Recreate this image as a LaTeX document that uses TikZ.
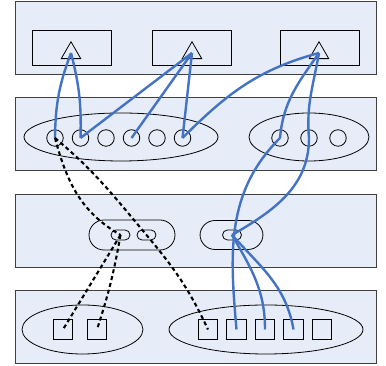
\documentclass[tikz,border=0pt]{standalone}
\usepackage{tikz}
\usetikzlibrary{shapes.geometric, calc, arrows, positioning}
\definecolor{layerfill}{RGB}{231,237,248}
\definecolor{linkblue}{RGB}{68,114,196}

\begin{document}
\begin{tikzpicture}[x=1pt, y=1pt, node distance=9pt, outer sep=0pt]

\tikzstyle{layer}=[rectangle,draw=black!75,fill=layerfill,line width=0.9pt,minimum width=361pt,minimum height=73pt]
\tikzstyle{slot}=[rectangle,draw,line width=0.8pt,minimum width=79pt,minimum height=35pt]
\tikzstyle{tri}=[regular polygon,regular polygon sides=3,draw,line width=0.8pt,minimum size=22.5pt,inner sep=0pt]
\tikzstyle{group}=[ellipse,draw,line width=0.8pt,inner sep=0pt]
\tikzstyle{port}=[circle,draw,line width=0.8pt,minimum size=16.5pt,inner sep=0pt]
\tikzstyle{ring}=[rectangle,draw,line width=0.8pt,minimum height=30pt,rounded corners=15pt]
\tikzstyle{pill}=[rectangle,draw,line width=0.8pt,minimum width=19pt,minimum height=10pt,inner sep=0pt,rounded corners=5pt]
\tikzstyle{cell}=[rectangle,draw,line width=0.8pt,minimum size=19.5pt,inner sep=0pt]
\tikzstyle{link}=[draw=linkblue,line width=2.4pt]
\tikzstyle{tunnel}=[draw=black,line width=2.1pt,dash pattern=on 4pt off 3pt]

\useasboundingbox (0,0) rectangle (386,366);

\node[layer] (layer1) at (195.5,328.5) {};
\node[layer] (layer2) at (195.5,232) {};
\node[layer] (layer3) at (195.5,135) {};
\node[layer] (layer4) at (195.5,39) {};

\node[slot] (slot1) at (71.5,318.5) {};
\node[slot] (slot2) at (192,318.5) {};
\node[slot] (slot3) at (320,318.5) {};
\node[tri] (tri1) at (71,313) {};
\node[tri] (tri2) at (192,313) {};
\node[tri] (tri3) at (319,313) {};

\node[group,minimum width=194pt,minimum height=48pt] (grpL) at (121,229) {};
\node[group,minimum width=120pt,minimum height=48pt] (grpR) at (309,229) {};
\node[port] (port1) at (55,228) {};
\node[port] (port2) [right = of port1] {};
\node[port] (port3) [right = of port2] {};
\node[port] (port4) [right = of port3] {};
\node[port] (port5) [right = of port4] {};
\node[port] (port6) [right = of port5] {};
\node[port] (rport1) at (280,228) {};
\node[port] (rport2) [right = 12.5pt of rport1] {};
\node[port] (rport3) [right = 12.5pt of rport2] {};

\node[ring,minimum width=86pt] (ringL) at (132,131) {};
\node[ring,minimum width=63pt,minimum height=29pt] (ringR) at (231.5,131) {};
\node[pill] (pill1) at (120.5,131) {};
\node[pill] (pill2) at (146.5,131) {};
\node[pill] (pill3) at (232,131) {};

\node[group,minimum width=121pt,minimum height=49pt] (binL) at (82.5,36.5) {};
\node[group,minimum width=194pt,minimum height=49pt] (binR) at (266,36.5) {};
\node[cell] (cell1) at (63,36.5) {};
\node[cell] (cell2) [right = 14.5pt of cell1] {};
\node[cell] (cell3) at (208,36.5) {};
\node[cell] (cell4) [right = of cell3] {};
\node[cell] (cell5) [right = of cell4] {};
\node[cell] (cell6) [right = of cell5] {};
\node[cell] (cell7) [right = of cell6] {};

\draw[link] (port1.center) to[bend left=10] (tri1.center);
\draw[link] (port2.center) to[bend right=8] (tri1.center);
\draw[link] (port2.center) -- (tri2.center);
\draw[link] (port4.center) -- (tri2.center);
\draw[link] (port6.center) -- (tri2.center);
\draw[link] (port6.center) to[out=45,in=195] (tri3.center);
\draw[link] (rport1.center) to[out=85,in=235] (tri3.center);
\draw[link] (rport2.center) to[out=95,in=260] (tri3.center);
\draw[link] (rport1.center) to[out=225,in=95] (cell4.center);
\draw[link] (rport2.center) to[out=-90,in=30] (pill3.center);
\draw[link] (pill3.center) to[out=-60,in=90] (cell5.center);
\draw[link] (pill3.center) to[out=-48,in=100] (cell6.center);

\draw[tunnel] (port1.center) to[out=-75,in=150] (pill1.center);
\draw[tunnel] (port1.center) to[out=-40,in=130] (pill2.center) to[out=-50,in=115] (cell3.center);
\draw[tunnel] (pill1.center) -- (cell1.center);
\draw[tunnel] (pill1.center) to[bend left=4] (cell2.center);
\end{tikzpicture}
\end{document}
